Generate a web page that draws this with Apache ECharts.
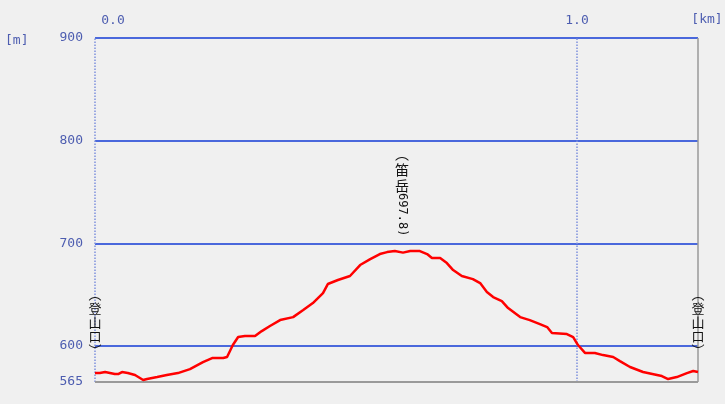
<!DOCTYPE html>
<html>
<head>
<meta charset="utf-8">
<script src="https://cdn.jsdelivr.net/npm/echarts@6/dist/echarts.min.js"></script>
<style>
html,body{margin:0;padding:0;background:#f0f0f0;}
#c{width:725px;height:404px;}
</style>
</head>
<body>
<div id="c"></div>
<script>
// distance along the route [km]
const dist = [0, 0.010, 0.021, 0.031, 0.041, 0.048, 0.056, 0.068, 0.083, 0.100, 0.108, 0.129, 0.149, 0.172, 0.197, 0.224, 0.243, 0.266, 0.274, 0.286, 0.297, 0.311, 0.332, 0.346, 0.363, 0.384, 0.411, 0.432, 0.452, 0.473, 0.483, 0.504, 0.529, 0.550, 0.571, 0.591, 0.606, 0.622, 0.639, 0.654, 0.674, 0.689, 0.699, 0.716, 0.730, 0.743, 0.761, 0.784, 0.799, 0.813, 0.826, 0.844, 0.857, 0.882, 0.902, 0.923, 0.938, 0.948, 0.979, 0.992, 1.002, 1.017, 1.037, 1.054, 1.075, 1.089, 1.110, 1.137, 1.166, 1.176, 1.189, 1.207, 1.228, 1.241, 1.251];
// elevation [m]
const elev = [573.7, 573.7, 574.7, 573.7, 572.7, 572.7, 574.7, 573.7, 571.8, 566.9, 567.9, 569.8, 571.8, 573.7, 577.6, 584.4, 588.3, 588.3, 589.3, 601.0, 608.8, 609.7, 609.7, 614.6, 619.5, 625.3, 628.2, 635.1, 641.9, 651.6, 660.4, 664.3, 668.2, 678.9, 684.7, 689.6, 691.5, 692.5, 691.0, 692.5, 692.5, 689.6, 685.7, 685.7, 680.8, 674.0, 668.2, 665.2, 661.3, 652.6, 647.7, 643.8, 637.0, 628.2, 625.3, 621.4, 618.5, 612.7, 611.7, 608.8, 601.0, 593.2, 593.2, 591.2, 589.3, 585.4, 579.6, 574.7, 571.8, 570.8, 567.9, 569.8, 573.7, 575.7, 574.7];
// axes
const xMin = 0, xMax = 1.251;
const yMin = 565, yMax = 900;
const xTicks = [0, 1];
const yTicks = [565, 600, 700, 800, 900];
const yGrid = [600, 700, 800, 900];
const xUnit = '[km]', yUnit = '[m]';
// annotations
const endLabel = '登山口';
const peakName = '笛岳';
const peakElevText = '697.8';
const peakDist = 0.637;
const peakElev = 692.5;

const axisColor = '#4d5db0';
const monoFont = '"DejaVu Sans Mono", "Liberation Mono", monospace';

const chart = echarts.init(document.getElementById('c'), null, {renderer: 'canvas'});
const data = dist.map((d, i) => [d, elev[i]]);

chart.setOption({
  backgroundColor: '#f0f0f0',
  animation: false,
  grid: {left: 95, right: 27, top: 38, bottom: 22},
  xAxis: {
    type: 'value', position: 'top', min: xMin, max: xMax, interval: 1,
    axisLine: {show: false}, axisTick: {show: false}, splitLine: {show: false},
    axisLabel: {
      showMaxLabel: false, margin: 11, color: axisColor, fontFamily: monoFont, fontSize: 13,
      formatter: v => v === 0 ? '{z|' + v.toFixed(1) + '}' : '{n|' + v.toFixed(1) + '}',
      rich: {
        z: {padding: [0, 0, 0, 36], color: axisColor, fontFamily: monoFont, fontSize: 13},
        n: {color: axisColor, fontFamily: monoFont, fontSize: 13}
      }
    }
  },
  yAxis: {
    type: 'value', min: yMin, max: yMax,
    axisLine: {show: false}, axisTick: {show: false}, splitLine: {show: false},
    axisLabel: {customValues: yTicks, margin: 12, color: axisColor, fontFamily: monoFont, fontSize: 13}
  },
  series: [
    {
      type: 'line', data: [], z: 1, silent: true,
      markLine: {
        silent: true, symbol: 'none', label: {show: false}, animation: false,
        data: [
          ...yGrid.map(v => ({yAxis: v, lineStyle: {color: '#4a68dc', width: 2, type: 'solid'}})),
          ...xTicks.map(v => ({xAxis: v, lineStyle: {color: '#7d90dc', width: 1.5, type: 'dotted'}})),
          {yAxis: yMin, lineStyle: {color: '#9a9a9a', width: 2, type: 'solid'}},
          {xAxis: xMax, lineStyle: {color: '#9a9a9a', width: 1.5, type: 'solid'}}
        ]
      }
    },
    {
      type: 'line', data: data, z: 5, showSymbol: false, symbol: 'none',
      lineStyle: {color: '#ff0000', width: 2.5}, silent: true
    }
  ]
});

const p0 = chart.convertToPixel({gridIndex: 0}, [xMin, 623]);
const p1 = chart.convertToPixel({gridIndex: 0}, [xMax, 623]);
const pk = chart.convertToPixel({gridIndex: 0}, [peakDist, peakElev]);
const cjk = '"Noto Sans CJK JP", "Noto Sans CJK SC", sans-serif';
const endText = '︵\n' + endLabel.split('').join('\n') + '\n︶';

chart.setOption({
  graphic: [
    {type: 'text', x: 5, y: 41, style: {text: yUnit, fill: axisColor, font: '13px ' + monoFont, verticalAlign: 'middle', align: 'left'}},
    {type: 'text', x: 707, y: 20, style: {text: xUnit, fill: axisColor, font: '13px ' + monoFont, verticalAlign: 'middle', align: 'center'}},
    {type: 'text', x: p0[0], y: p0[1], z: 10, style: {text: endText, fill: '#111', font: '13px ' + cjk, lineHeight: 14, align: 'center', verticalAlign: 'middle'}},
    {type: 'text', x: p1[0], y: p1[1], z: 10, style: {text: endText, fill: '#111', font: '13px ' + cjk, lineHeight: 14, align: 'center', verticalAlign: 'middle'}},
    {type: 'text', x: pk[0], y: pk[1] - 105, z: 10, style: {text: '︵\n' + peakName.split('').join('\n'), fill: '#111', font: '14px ' + cjk, lineHeight: 16, align: 'center', verticalAlign: 'top'}},
    {type: 'text', x: pk[0], y: pk[1] - 58, rotation: -Math.PI / 2, z: 10, style: {text: peakElevText + ')', fill: '#111', font: '12px ' + monoFont, align: 'left', verticalAlign: 'middle'}}
  ]
});
</script>
</body>
</html>
